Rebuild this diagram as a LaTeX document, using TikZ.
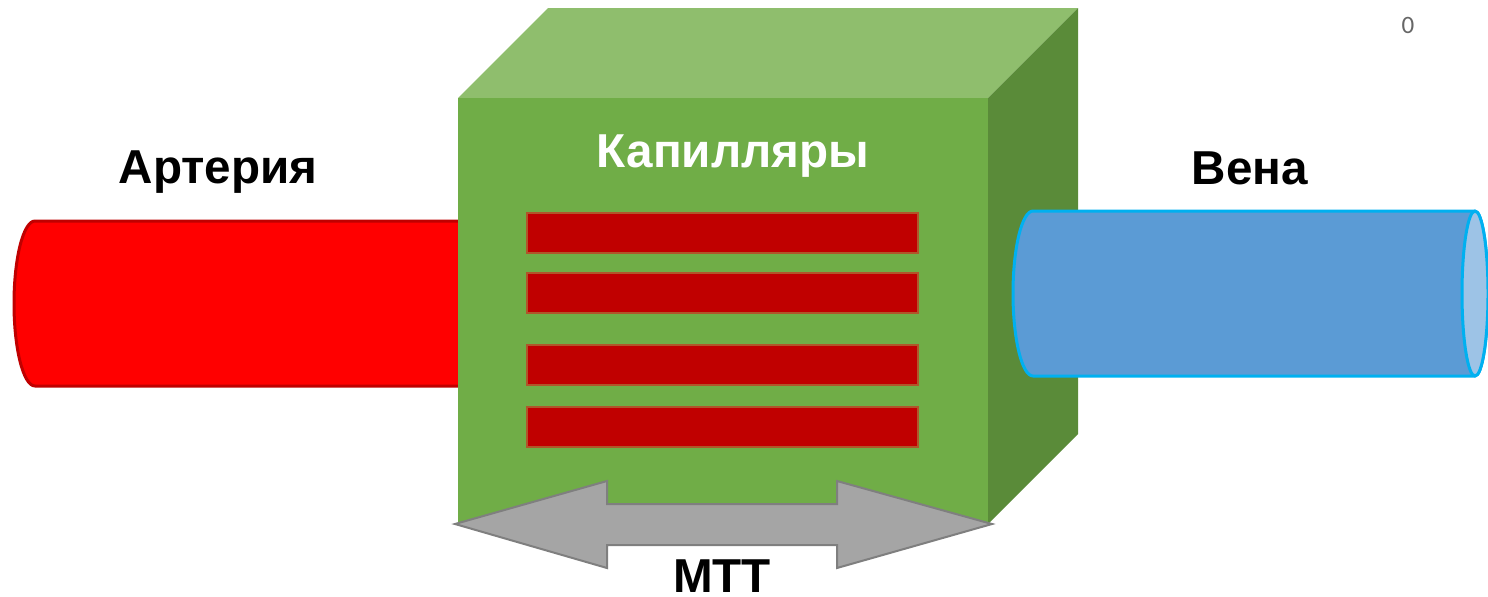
\documentclass[tikz,border=0pt]{standalone}
\usepackage{fontspec}
\setmainfont{Liberation Sans}
\newfontfamily\pagefont{Carlito}
\usetikzlibrary{positioning}

\definecolor{artred}{HTML}{FF0000}
\definecolor{artedge}{HTML}{C00000}
\definecolor{cubefront}{HTML}{70AD47}
\definecolor{cubetop}{HTML}{8FBE6D}
\definecolor{cubeside}{HTML}{5A8B39}
\definecolor{capred}{HTML}{C00000}
\definecolor{capedge}{HTML}{B0562A}
\definecolor{veinblue}{HTML}{5B9BD5}
\definecolor{veinedge}{HTML}{00B0F0}
\definecolor{veincap}{HTML}{9DC3E6}
\definecolor{mttgrey}{HTML}{A5A5A5}
\definecolor{mttedge}{HTML}{7F7F7F}

\begin{document}
\begin{tikzpicture}[x=0.5pt,y=-0.5pt,
    lbl/.style={font=\fontsize{23.8}{28}\selectfont\bfseries},
    capil/.style={fill=capred,draw=capedge,line width=1.4pt},
    tube/.style={line width=1.5pt,line join=round}]
  \useasboundingbox (0,0) rectangle (1488,596);

  % artery, right end goes behind the box
  \draw[tube,fill=artred,draw=artedge] (458,221) -- (35,221)
    arc[start angle=270,end angle=90,x radius=21,y radius=82.5] -- (458,386);

  % the box
  \fill[cubetop] (458,98) -- (548,8) -- (1078,8) -- (988,98) -- cycle;
  \fill[cubeside] (988,98) -- (1078,8) -- (1078,434) -- (988,524) -- cycle;
  \fill[cubefront] (458,98) rectangle (988,524);

  % capillaries
  \foreach \y in {213,273,345,407}
    \draw[capil] (527,\y) rectangle (918,\y+40);

  % transit time arrow
  \draw[fill=mttgrey,draw=mttedge,line width=1pt,line join=miter]
    (455,524) -- (607,481) -- (607,504) -- (837,504) -- (837,481) -- (992,524)
    -- (837,568) -- (837,545) -- (607,545) -- (607,568) -- cycle;
  \coordinate (arrowmid) at (722,545);

  % vein
  \draw[tube,fill=veinblue,draw=veinedge] (1475,211) -- (1033,211)
    arc[start angle=270,end angle=90,x radius=20,y radius=82.5] -- (1475,376)
    arc[start angle=90,end angle=-90,x radius=13,y radius=82.5];
  \draw[tube,fill=veincap,draw=veinedge] (1475,293.5) ellipse[x radius=13,y radius=82.5];

  % labels
  \node[lbl,anchor=base] (artery) at (218,183) {Артерия};
  \node[lbl,anchor=base,text=white] (capillaries) at (733,167) {Капилляры};
  \node[lbl,anchor=base] (vein) at (1250,184) {Вена};
  \node[lbl,anchor=north,below=7pt of arrowmid,inner sep=0pt] (mtt) {MTT};
  \node[font=\pagefont\fontsize{12.5}{15}\selectfont,text=black!60,anchor=base] (pagenum) at (1408,33) {0};
\end{tikzpicture}
\end{document}
